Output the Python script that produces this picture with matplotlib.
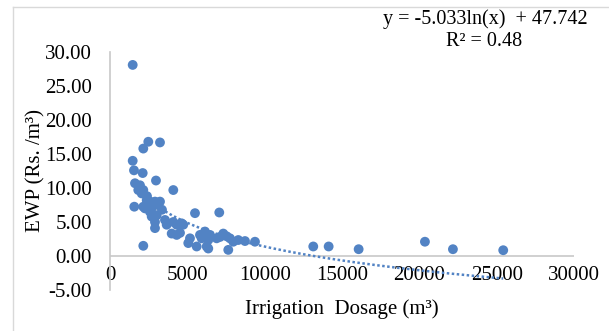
"""
EWP vs Irrigation Dosage scatter with log trendline (Excel style)
"""
import matplotlib
matplotlib.use('Agg')
import matplotlib.pyplot as plt
from matplotlib.lines import Line2D
import numpy as np

plt.rcParams['font.family'] = ['Liberation Serif', 'DejaVu Serif']

# data
dosage = [1467, 2476, 2153, 3232, 1467, 1551, 2114, 2973, 1616, 1939,
          1829, 2153, 2049, 4092, 1571, 2372, 2586, 2909, 3232, 3122,
          2153, 2262, 2586, 2696, 3019, 2909, 2909, 3555, 3665, 4092,
          4312, 4635, 3988, 4312, 5495, 7065, 5171, 5061, 5604, 5818,
          6141, 6464, 6251, 2153, 4738, 4525, 5928, 6354, 6897, 7110,
          7324, 7544, 7757, 7970, 8293, 8727, 9373, 7647, 13142, 14137,
          16076, 20362, 22172, 25424, 2392, 2715, 3361, 6354]
ewp = [28.1, 16.8, 15.8, 16.7, 14.0, 12.6, 12.2, 11.1, 10.7, 10.4,
       9.7, 9.7, 9.2, 9.7, 7.25, 8.2, 8.0, 8.0, 8.0, 7.5,
       7.25, 7.0, 6.5, 5.8, 6.0, 5.0, 4.1, 5.3, 4.6, 5.0,
       4.6, 4.8, 3.3, 3.1, 6.3, 6.4, 2.6, 1.9, 1.4, 3.1,
       3.6, 3.1, 1.4, 1.5, 4.6, 3.4, 2.6, 2.35, 2.6, 2.8,
       3.3, 2.9, 2.6, 2.1, 2.35, 2.2, 2.1, 0.9, 1.4, 1.4,
       1.0, 2.1, 1.0, 0.85, 8.8, 7.1, 6.8, 1.1]

# trendline coefficients (from the chart label)
coef_a = -5.033
coef_b = 47.742
r2 = 0.48

x_ticks = [0, 5000, 10000, 15000, 20000, 25000, 30000]
y_ticks = [-5, 0, 5, 10, 15, 20, 25, 30]

blue = '#5283c4'
axis_gray = '#c8c8c8'

fig = plt.figure(figsize=(6.09, 3.31), dpi=100)
ax = fig.add_axes([110 / 609, 1 - 290 / 331, 464 / 609, 238 / 331])

ax.scatter(dosage, ewp, s=50, color=blue, edgecolors='none', zorder=3)

x_fit = np.linspace(min(dosage), max(dosage), 200)
y_fit = coef_a * np.log(x_fit) + coef_b
ax.plot(x_fit, y_fit, color=blue, linestyle=(0, (1, 1)), linewidth=1.8, zorder=2)

ax.axhline(0, color=axis_gray, linewidth=1.2, zorder=1)

ax.set_xlim(0, 30000)
ax.set_ylim(-5, 30)
ax.set_xticks(x_ticks)
ax.set_yticks(y_ticks)
ax.set_yticklabels([f'{v:.2f}' for v in y_ticks])
ax.tick_params(axis='both', length=0, labelsize=15)
ax.tick_params(axis='x', pad=-17)
ax.tick_params(axis='y', pad=13)

for side in ['top', 'right', 'bottom']:
    ax.spines[side].set_visible(False)
ax.spines['left'].set_color(axis_gray)
ax.spines['left'].set_linewidth(1.2)

ax.set_xlabel('Irrigation  Dosage (m³)', fontsize=15, va='center')
ax.xaxis.set_label_coords(0.5, -0.08)
ax.set_ylabel('EWP (Rs. /m³)', fontsize=15, va='center')
ax.yaxis.set_label_coords(-0.16, 0.5)

fig.text(485 / 609, 1 - 19 / 331, f'y = {coef_a}ln(x)  + {coef_b}',
         fontsize=14.5, ha='center', va='center')
fig.text(484 / 609, 1 - 41 / 331, f'R² = {r2}',
         fontsize=14.5, ha='center', va='center')

# chart area border (only left and top visible in the crop)
fig.add_artist(Line2D([13 / 609, 13 / 609], [0, 1 - 7 / 331],
                      transform=fig.transFigure, color='#d9d9d9', linewidth=1))
fig.add_artist(Line2D([13 / 609, 1], [1 - 7 / 331, 1 - 7 / 331],
                      transform=fig.transFigure, color='#d9d9d9', linewidth=1))

fig.savefig('out.png', dpi=100)
plt.close()
